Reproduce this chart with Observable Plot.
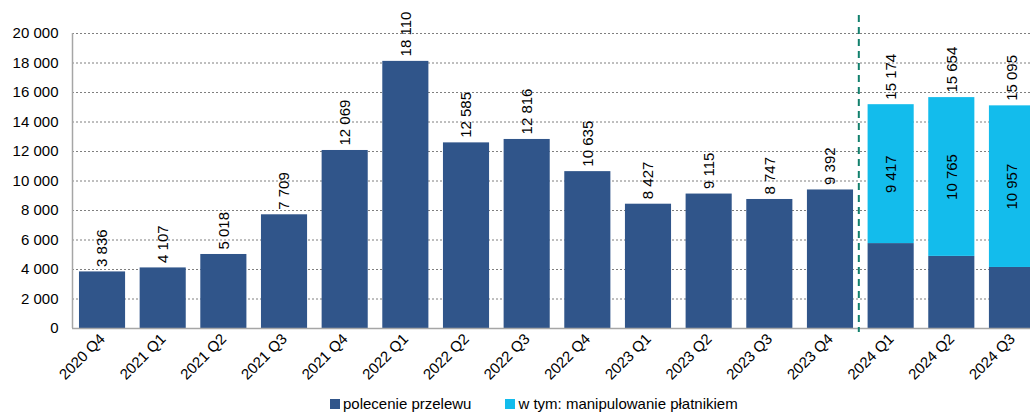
<!DOCTYPE html>
<html>
<head>
<meta charset="utf-8">
<script src="https://cdn.jsdelivr.net/npm/d3@7"></script>
<script src="https://cdn.jsdelivr.net/npm/@observablehq/plot@0.6"></script>
<style>
  body { margin: 0; background: #fff; font-family: "Liberation Sans", Arial, sans-serif; }
  #legend { display: flex; gap: 34px; padding-left: 330px; height: 20px; line-height: 20px; margin-top: 4px; font-size: 15px; color: #000; }
  #legend span.sw { display: inline-block; width: 10px; height: 10px; margin-right: 3px; vertical-align: -0px; }
</style>
</head>
<body>
<div id="chart"></div>
<script>
const quarters = ["2020 Q4","2021 Q1","2021 Q2","2021 Q3","2021 Q4","2022 Q1","2022 Q2","2022 Q3","2022 Q4","2023 Q1","2023 Q2","2023 Q3","2023 Q4","2024 Q1","2024 Q2","2024 Q3"];
const totals = [3836, 4107, 5018, 7709, 12069, 18110, 12585, 12816, 10635, 8427, 9115, 8747, 9392, 15174, 15654, 15095];
const manipulation = [null, null, null, null, null, null, null, null, null, null, null, null, null, 9417, 10765, 10957];
const seriesNames = ["polecenie przelewu", "w tym: manipulowanie płatnikiem"];
const seriesColors = ["#30558a", "#13bcec"];
const yTicks = [0, 2000, 4000, 6000, 8000, 10000, 12000, 14000, 16000, 18000, 20000];
const dividerQuarter = "2024 Q1";

const fmt = v => d3.format(",")(v).replace(/,/g, " ");

const stacked = [];
quarters.forEach((q, i) => {
  const m = manipulation[i] || 0;
  stacked.push({q, series: seriesNames[0], value: totals[i] - m});
  if (m) stacked.push({q, series: seriesNames[1], value: m});
});
const totalLabels = quarters.map((q, i) => ({q, y: totals[i], label: fmt(totals[i])}));
const innerLabels = quarters.map((q, i) => manipulation[i] ? ({q, y: totals[i] - manipulation[i] / 2, label: fmt(manipulation[i])}) : null).filter(d => d);

const W = 1030, H = 390;
const xRange = [72, 1042];
const pIn = 0.24, pOut = 0.115;
const step = (xRange[1] - xRange[0]) / (quarters.length - pIn + 2 * pOut);
const firstCenterOffset = step * pOut + step * (1 - pIn) / 2;

const chart = Plot.plot({
  width: W,
  height: H,
  marginLeft: 72,
  marginRight: 0,
  marginTop: 33,
  marginBottom: 62,
  style: {fontFamily: "'Liberation Sans', Arial, sans-serif", fontSize: "15px", color: "#000", background: "#fff"},
  x: {type: "band", domain: quarters, range: xRange, paddingInner: pIn, paddingOuter: pOut, round: false, label: null},
  y: {domain: [0, 20000], label: null},
  color: {domain: seriesNames, range: seriesColors},
  marks: [
    Plot.ruleY(yTicks.filter(t => t > 0), {stroke: "#7f7f7f", strokeWidth: 1, strokeDasharray: "2,2", strokeOpacity: 1}),
    Plot.barY(stacked, {x: "q", y: "value", fill: "series", order: seriesNames}),
    Plot.ruleY([0], {stroke: "#a6a6a6", strokeWidth: 1.5}),
    Plot.ruleX([quarters[0]], {x: d => d, dx: -firstCenterOffset, stroke: "#a6a6a6", strokeWidth: 1.5}),
    Plot.ruleX([dividerQuarter], {x: d => d, dx: -step / 2 - 2, stroke: "#12806d", strokeWidth: 2, strokeDasharray: "7,5", insetTop: -18, insetBottom: -4}),
    Plot.text(totalLabels, {x: "q", y: "y", text: "label", rotate: -90, textAnchor: "start", dy: -5, fontSize: 15, fill: "#000"}),
    Plot.text(innerLabels, {x: "q", y: "y", text: "label", rotate: -90, textAnchor: "middle", fontSize: 15, fill: "#000"}),
    Plot.axisY({ticks: yTicks, tickFormat: fmt, tickSize: 0, tickPadding: 14, fontSize: 15}),
    Plot.axisX({tickSize: 0, tickPadding: 8, tickRotate: -45, fontSize: 15})
  ]
});
document.getElementById("chart").appendChild(chart);

const legend = document.createElement("div");
legend.id = "legend";
seriesNames.forEach((n, i) => {
  const item = document.createElement("div");
  const sw = document.createElement("span");
  sw.className = "sw";
  sw.style.background = seriesColors[i];
  item.appendChild(sw);
  item.appendChild(document.createTextNode(n));
  legend.appendChild(item);
});
document.body.appendChild(legend);
</script>
</body>
</html>
